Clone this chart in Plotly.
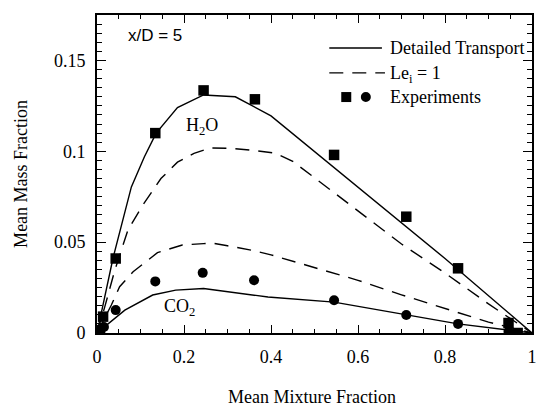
import plotly.graph_objects as go

# ---- data ----
# Detailed transport, H2O (solid)
h2o_dt_x = [0, 0.015, 0.037, 0.079, 0.109, 0.136, 0.185, 0.245, 0.318, 0.4, 0.6, 0.8, 1.0]
h2o_dt_y = [0, 0.0165, 0.0414, 0.0804, 0.097, 0.110, 0.124, 0.131, 0.130, 0.1195, 0.080, 0.041, 0.0]
# Le_i = 1, H2O (dashed)
h2o_le_x = [0, 0.018, 0.041, 0.071, 0.105, 0.147, 0.185, 0.223, 0.26, 0.31, 0.36, 0.409, 0.45, 0.5, 0.6, 0.7, 0.8, 0.9, 1.0]
h2o_le_y = [0, 0.0145, 0.0346, 0.0566, 0.0703, 0.085, 0.094, 0.0989, 0.1018, 0.1016, 0.1005, 0.099, 0.0945, 0.0855, 0.067, 0.049, 0.033, 0.016, 0.0]
# Le_i = 1, CO2 (dashed)
co2_le_x = [0, 0.018, 0.033, 0.052, 0.083, 0.139, 0.196, 0.245, 0.264, 0.3, 0.355, 0.4, 0.5, 0.6, 0.7, 0.8, 0.9, 1.0]
co2_le_y = [0, 0.008, 0.0154, 0.0255, 0.0337, 0.0442, 0.0484, 0.0492, 0.0495, 0.048, 0.0456, 0.043, 0.036, 0.029, 0.021, 0.0135, 0.006, 0.0]
# Detailed transport, CO2 (solid)
co2_dt_x = [0, 0.026, 0.064, 0.128, 0.181, 0.245, 0.31, 0.393, 0.545, 0.711, 0.83, 1.0]
co2_dt_y = [0, 0.0053, 0.0126, 0.0209, 0.0236, 0.0245, 0.0225, 0.0198, 0.017, 0.0099, 0.005, 0.0]
# Experiments
h2o_exp_x = [0.007, 0.014, 0.043, 0.134, 0.245, 0.363, 0.545, 0.711, 0.83, 0.946, 0.967]
h2o_exp_y = [0.0016, 0.009, 0.041, 0.110, 0.1335, 0.1286, 0.098, 0.064, 0.0356, 0.0055, 0.0]
co2_exp_x = [0.005, 0.016, 0.043, 0.134, 0.243, 0.361, 0.545, 0.711, 0.83, 0.946]
co2_exp_y = [0.0008, 0.0033, 0.0126, 0.0284, 0.0331, 0.029, 0.018, 0.0099, 0.005, 0.0008]

x_ticks = [0, 0.2, 0.4, 0.6, 0.8, 1.0]
x_tick_labels = ["0", "0.2", "0.4", "0.6", "0.8", "1"]
y_ticks = [0, 0.05, 0.1, 0.15]
y_tick_labels = ["0", "0.05", "0.1", "0.15"]

SERIF = "Liberation Serif"
SANS = "Liberation Sans"
DASH = "14px,9px"

fig = go.Figure()
for xs, ys, dash in [(h2o_dt_x, h2o_dt_y, "solid"), (h2o_le_x, h2o_le_y, DASH),
                     (co2_le_x, co2_le_y, DASH), (co2_dt_x, co2_dt_y, "solid")]:
    fig.add_trace(go.Scatter(x=xs, y=ys, mode="lines",
                             line=dict(color="black", width=1.4, dash=dash),
                             showlegend=False, hoverinfo="skip"))
fig.add_trace(go.Scatter(x=h2o_exp_x, y=h2o_exp_y, mode="markers",
                         marker=dict(symbol="square", size=10.5, color="black"),
                         showlegend=False))
fig.add_trace(go.Scatter(x=co2_exp_x, y=co2_exp_y, mode="markers",
                         marker=dict(symbol="circle", size=10, color="black"),
                         showlegend=False))

axis_common = dict(showline=True, linecolor="black", linewidth=2, mirror="allticks",
                   ticks="inside", tickcolor="black", tickwidth=1,
                   showgrid=False, zeroline=False,
                   tickfont=dict(family=SERIF, size=18, color="black"))
fig.update_xaxes(range=[0, 1], tickvals=x_ticks, ticktext=x_tick_labels, ticklen=8,
                 ticklabelstandoff=6,
                 minor=dict(dtick=0.05, ticks="inside", ticklen=4, tickcolor="black", tickwidth=1),
                 **axis_common)
fig.update_yaxes(range=[0, 0.175], tickvals=y_ticks, ticktext=y_tick_labels, ticklen=9,
                 ticklabelstandoff=6,
                 minor=dict(dtick=0.005, ticks="inside", ticklen=5, tickcolor="black", tickwidth=1),
                 **axis_common)

ann = []
ann.append(dict(text="Mean Mixture Fraction", x=0.495, y=-0.2, xref="paper", yref="paper",
                xanchor="center", yanchor="middle",
                showarrow=False, font=dict(family=SERIF, size=18, color="black")))
ann.append(dict(text="Mean Mass Fraction", x=-0.175, y=0.5, xref="paper", yref="paper",
                xanchor="center", yanchor="middle",
                textangle=-90, showarrow=False, font=dict(family=SERIF, size=18, color="black")))
ann.append(dict(text="x/D = 5", x=0.066, y=0.935, xref="paper", yref="paper",
                xanchor="left", yanchor="middle",
                showarrow=False, font=dict(family=SANS, size=17, color="black")))
ann.append(dict(text="H<sub>2</sub>O", x=0.2, y=0.1135, xref="x", yref="y",
                xanchor="left", yanchor="middle",
                showarrow=False, font=dict(family=SERIF, size=18, color="black")))
ann.append(dict(text="CO<sub>2</sub>", x=0.15, y=0.014, xref="x", yref="y",
                xanchor="left", yanchor="middle",
                showarrow=False, font=dict(family=SERIF, size=18, color="black")))
# legend
leg_rows = [0.896, 0.818, 0.742]
leg_text_y = [0.896, 0.812, 0.742]
leg_texts = ["Detailed Transport", "Le<sub>i</sub> = 1", "Experiments"]
for yy, tt in zip(leg_text_y, leg_texts):
    ann.append(dict(text=tt, x=0.668, y=yy, xref="paper", yref="paper",
                    xanchor="left", yanchor="middle",
                    showarrow=False, font=dict(family=SERIF, size=18, color="black")))
shapes = [
    dict(type="line", xref="paper", yref="paper", x0=0.534, x1=0.655, y0=leg_rows[0], y1=leg_rows[0],
         line=dict(color="black", width=1.4)),
    dict(type="line", xref="paper", yref="paper", x0=0.534, x1=0.662, y0=leg_rows[1], y1=leg_rows[1],
         line=dict(color="black", width=1.4, dash=DASH)),
    dict(type="rect", xref="paper", yref="paper", xsizemode="pixel", ysizemode="pixel",
         xanchor=0.573, yanchor=leg_rows[2], x0=-5, x1=5, y0=-5, y1=5,
         fillcolor="black", line=dict(width=0)),
    dict(type="circle", xref="paper", yref="paper", xsizemode="pixel", ysizemode="pixel",
         xanchor=0.618, yanchor=leg_rows[2], x0=-5, x1=5, y0=-5, y1=5,
         fillcolor="black", line=dict(width=0)),
]

fig.update_layout(width=549, height=406, margin=dict(l=97, r=12, t=15, b=73),
                  plot_bgcolor="white", paper_bgcolor="white",
                  font=dict(family=SERIF, size=18, color="black"),
                  annotations=ann, shapes=shapes, showlegend=False)
fig.write_html("out.html")
